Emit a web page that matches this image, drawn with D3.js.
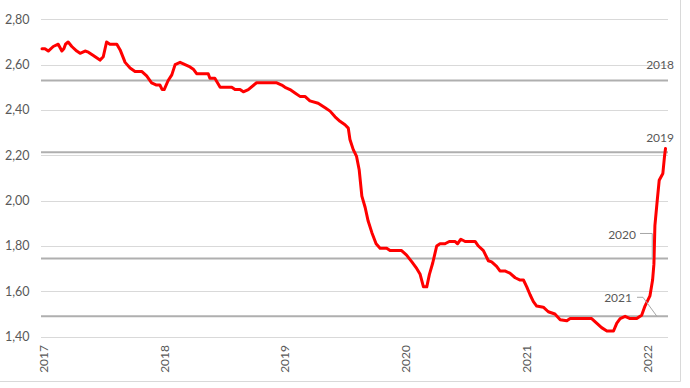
<!DOCTYPE html>
<html><head><meta charset="utf-8">
<script src="https://cdn.jsdelivr.net/npm/d3@7"></script>
<style>html,body{margin:0;padding:0;background:#fff;}svg{display:block;font-family:Lato,"Open Sans",sans-serif;}</style>
</head><body>
<svg id="c" width="690" height="388"></svg>
<script>
const dates = ["2016-12-26","2017-01-04","2017-01-14","2017-01-29","2017-02-13","2017-02-24","2017-03-02","2017-03-07","2017-03-15","2017-03-26","2017-04-10","2017-04-20","2017-05-05","2017-05-15","2017-05-30","2017-06-09","2017-06-19","2017-06-29","2017-07-09","2017-07-19","2017-08-09","2017-08-19","2017-09-03","2017-09-18","2017-10-03","2017-10-23","2017-11-07","2017-11-22","2017-12-07","2017-12-17","2017-12-24","2017-12-30",
"2018-01-11","2018-01-22","2018-02-01","2018-02-16","2018-03-03","2018-03-18","2018-03-28","2018-04-07","2018-05-12","2018-05-17","2018-06-01","2018-06-17","2018-07-22","2018-08-01","2018-08-16","2018-08-26","2018-09-10","2018-10-05","2018-12-05","2018-12-20","2018-12-30",
"2019-01-14","2019-01-29","2019-02-13","2019-02-28","2019-03-15","2019-04-09","2019-04-30","2019-05-15","2019-05-30","2019-06-14","2019-06-29","2019-07-09","2019-07-14","2019-07-24","2019-08-03","2019-08-11","2019-08-19","2019-08-29","2019-09-07","2019-09-18","2019-10-01","2019-10-13","2019-11-02","2019-11-12","2019-12-17",
"2020-01-01","2020-01-17","2020-02-01","2020-02-11","2020-02-21","2020-03-02","2020-03-10","2020-03-20","2020-04-01","2020-04-11","2020-04-26","2020-05-09","2020-05-26","2020-06-03","2020-06-13","2020-06-26","2020-07-26","2020-08-05","2020-08-20","2020-09-04","2020-09-14","2020-09-29","2020-10-09","2020-10-24","2020-11-08","2020-11-24","2020-12-09","2020-12-19","2020-12-29",
"2021-01-08","2021-01-18","2021-01-28","2021-02-17","2021-03-04","2021-03-24","2021-04-09","2021-04-29","2021-05-09","2021-07-13","2021-07-28","2021-08-12","2021-08-28","2021-09-17","2021-09-27","2021-10-07","2021-10-22","2021-11-06","2021-11-26","2021-12-11","2021-12-21",
"2022-01-05","2022-01-13","2022-01-17","2022-01-20","2022-01-27","2022-02-02","2022-02-13","2022-02-18","2022-02-21"];
const values = [2.67,2.67,2.66,2.68,2.69,2.66,2.67,2.69,2.70,2.68,2.66,2.65,2.66,2.655,2.64,2.63,2.62,2.635,2.70,2.69,2.69,2.665,2.61,2.585,2.57,2.57,2.55,2.52,2.51,2.51,2.49,2.49,
2.53,2.555,2.60,2.61,2.60,2.59,2.58,2.56,2.56,2.54,2.54,2.50,2.50,2.49,2.49,2.48,2.49,2.52,2.52,2.51,2.50,
2.49,2.475,2.46,2.46,2.44,2.43,2.41,2.395,2.37,2.35,2.335,2.32,2.27,2.225,2.195,2.135,2.02,1.97,1.91,1.86,1.81,1.79,1.79,1.78,1.78,
1.76,1.73,1.70,1.675,1.62,1.62,1.675,1.725,1.80,1.81,1.81,1.82,1.82,1.81,1.83,1.82,1.82,1.80,1.78,1.735,1.73,1.71,1.69,1.69,1.68,1.66,1.65,1.65,1.62,
1.585,1.555,1.535,1.53,1.51,1.50,1.475,1.47,1.48,1.48,1.46,1.44,1.425,1.425,1.46,1.48,1.49,1.48,1.48,1.495,1.535,
1.58,1.65,1.72,1.89,2.00,2.09,2.12,2.195,2.23];
const yTicks = [1.40,1.60,1.80,2.00,2.20,2.40,2.60,2.80];
const xTickYears = ["2017","2018","2019","2020","2021","2022"];
const refLabels = ["2018","2019","2020","2021"];
const refValues = [2.53,2.214,1.745,1.49];

const parse = d3.timeParse("%Y-%m-%d");
const svg = d3.select("#c");
const x = d3.scaleTime().domain([parse("2016-12-26"), parse("2022-02-21")]).range([42, 665.5]);
const y = d3.scaleLinear().domain([1.40, 2.80]).range([336.7, 19.3]);
const gridX0 = 41, gridX1 = 668;
const textCol = "#595959";

// border
svg.append("line").attr("x1",680.5).attr("x2",680.5).attr("y1",0).attr("y2",381.5).attr("stroke","#d9d9d9").attr("stroke-width",1);
svg.append("line").attr("x1",0).attr("x2",680.5).attr("y1",381.5).attr("y2",381.5).attr("stroke","#d9d9d9").attr("stroke-width",1);

// gridlines
svg.append("g").selectAll("line").data(yTicks).join("line")
  .attr("x1",gridX0).attr("x2",gridX1)
  .attr("y1",d=>Math.round(y(d))+0.5).attr("y2",d=>Math.round(y(d))+0.5)
  .attr("stroke","#d9d9d9").attr("stroke-width",1);

// y labels
const fmt = d => d3.format(".2f")(d).replace(".", ",");
svg.append("g").selectAll("text").data(yTicks).join("text")
  .attr("x",29.5).attr("y",d=>y(d)).attr("dy","0.35em")
  .attr("text-anchor","end").attr("font-size",12.5).attr("fill",textCol).text(fmt);

// x labels
svg.append("g").selectAll("text").data(xTickYears).join("text")
  .attr("transform",d=>`translate(${x(parse(d+"-01-01"))-0.5},345) rotate(-90)`)
  .attr("dy","0.35em").attr("text-anchor","end").attr("font-size",12).attr("fill",textCol).text(d=>d);

// reference lines
svg.append("g").selectAll("line").data(refValues).join("line")
  .attr("x1",gridX0).attr("x2",gridX1)
  .attr("y1",d=>y(d)).attr("y2",d=>y(d))
  .attr("stroke","#afafaf").attr("stroke-width",2);

// series line
const line = d3.line().x((d,i)=>x(parse(dates[i]))).y(d=>y(d)).curve(d3.curveLinear);
svg.append("path").datum(values).attr("d",line)
  .attr("fill","none").attr("stroke","#ff0000").attr("stroke-width",3).attr("stroke-linejoin","round").attr("stroke-linecap","round");

// reference labels
const lab = svg.append("g").attr("font-size",12).attr("fill",textCol);
lab.append("text").attr("x",674).attr("y",y(refValues[0])-12).attr("text-anchor","end").text(refLabels[0]);
lab.append("text").attr("x",674).attr("y",y(refValues[1])-10).attr("text-anchor","end").text(refLabels[1]);
lab.append("text").attr("x",636).attr("y",y(refValues[2])-24).attr("dy","0.35em").attr("text-anchor","end").text(refLabels[2]);
lab.append("text").attr("x",632).attr("y",y(refValues[3])-18).attr("dy","0.35em").attr("text-anchor","end").text(refLabels[3]);

// leader lines
const lx2020 = x(parse("2022-01-12"));
svg.append("path").attr("d",`M640,${y(refValues[2])-25}H${lx2020}V${y(refValues[2])}`)
  .attr("fill","none").attr("stroke","#a6a6a6").attr("stroke-width",1);
const lx2021 = x(parse("2022-01-26"));
svg.append("path").attr("d",`M637,${y(refValues[3])-19}H643L${lx2021},${y(refValues[3])}`)
  .attr("fill","none").attr("stroke","#a6a6a6").attr("stroke-width",1);
</script>
</body></html>
